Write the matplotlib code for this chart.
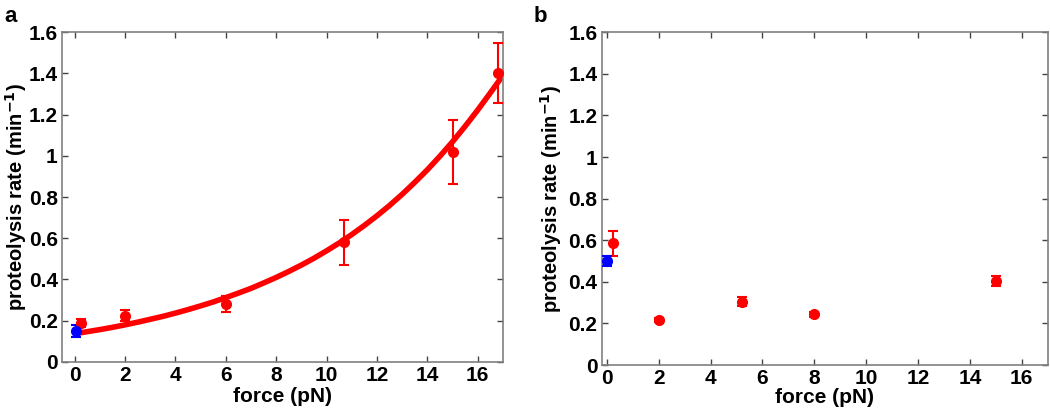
import matplotlib
matplotlib.use('Agg')
import matplotlib.pyplot as plt

plt.rcParams['font.family'] = ['Liberation Sans', 'DejaVu Sans']
plt.rcParams['font.weight'] = 'bold'
plt.rcParams['mathtext.default'] = 'bf'

# panel a data
aBlueX = [0.05]
aBlueY = [0.15]
aBlueErr = [0.03]
aRedX = [0.25, 2, 6, 10.7, 15, 16.8]
aRedY = [0.19, 0.225, 0.28, 0.58, 1.02, 1.40]
aRedErr = [0.02, 0.025, 0.04, 0.11, 0.155, 0.145]
# fitted curve, values every 0.5 pN
fitX = [0, 0.5, 1, 1.5, 2, 2.5, 3, 3.5, 4, 4.5, 5, 5.5, 6, 6.5, 7, 7.5, 8, 8.5,
        9, 9.5, 10, 10.5, 11, 11.5, 12, 12.5, 13, 13.5, 14, 14.5, 15, 15.5,
        16, 16.5, 17]
fitY = [0.137, 0.147, 0.157, 0.168, 0.180, 0.193, 0.207, 0.221, 0.237, 0.254,
        0.272, 0.291, 0.312, 0.334, 0.357, 0.383, 0.410, 0.439, 0.470, 0.503,
        0.539, 0.577, 0.618, 0.662, 0.709, 0.759, 0.813, 0.871, 0.932, 0.998,
        1.068, 1.143, 1.222, 1.305, 1.390]

# panel b data
bBlueX = [0.0]
bBlueY = [0.50]
bBlueErr = [0.025]
bRedX = [0.25, 2, 5.2, 8, 15]
bRedY = [0.585, 0.215, 0.305, 0.245, 0.405]
bRedErr = [0.06, 0.01, 0.02, 0.012, 0.025]

xTicks = [0, 2, 4, 6, 8, 10, 12, 14, 16]
yTicks = [0, 0.2, 0.4, 0.6, 0.8, 1.0, 1.2, 1.4, 1.6]
yTickLabels = ['0', '0.2', '0.4', '0.6', '0.8', '1', '1.2', '1.4', '1.6']


def styleAxes(ax, xmin, yLabelX, xLabelY):
	ax.set_xlim(xmin, 17)
	ax.set_ylim(0, 1.6)
	ax.set_xticks(xTicks)
	ax.set_yticks(yTicks)
	ax.set_yticklabels(yTickLabels)
	ax.tick_params(direction='in', top=True, right=True, labelsize=15,
		length=4, width=1, color='#444444', pad=3)
	for s in ax.spines.values():
		s.set_color('#808080')
		s.set_linewidth(1.2)
	ax.set_xlabel('force (pN)', fontsize=15, fontweight='bold', va='top')
	ax.set_ylabel('proteolysis rate (min$^{-1}$)', fontsize=14.5,
		fontweight='bold', va='bottom')
	ax.xaxis.set_label_coords(0.5, xLabelY)
	ax.yaxis.set_label_coords(yLabelX, 0.5)


def drawPoints(ax, x, y, err, color):
	ax.errorbar(x, y, yerr=err, fmt='o', color=color, markersize=7,
		capsize=3.5, elinewidth=1.5, capthick=1.5, zorder=3)


fig = plt.figure(figsize=(10.5, 4.13), dpi=100)

axA = fig.add_axes([0.059, 0.1235, 0.42, 0.799])
axA.plot(fitX, fitY, color='red', linewidth=4, solid_capstyle='butt', zorder=2)
drawPoints(axA, aRedX, aRedY, aRedErr, 'red')
drawPoints(axA, aBlueX, aBlueY, aBlueErr, 'blue')
styleAxes(axA, -0.5, -0.075, -0.075)

axB = fig.add_axes([0.573, 0.116, 0.4248, 0.806])
drawPoints(axB, bRedX, bRedY, bRedErr, 'red')
drawPoints(axB, bBlueX, bBlueY, bBlueErr, 'blue')
styleAxes(axB, -0.2, -0.085, -0.068)

fig.text(0.004, 0.985, 'a', fontsize=16, fontweight='bold', va='top')
fig.text(0.508, 0.985, 'b', fontsize=16, fontweight='bold', va='top')

plt.savefig('out.png', dpi=100)
plt.close()
